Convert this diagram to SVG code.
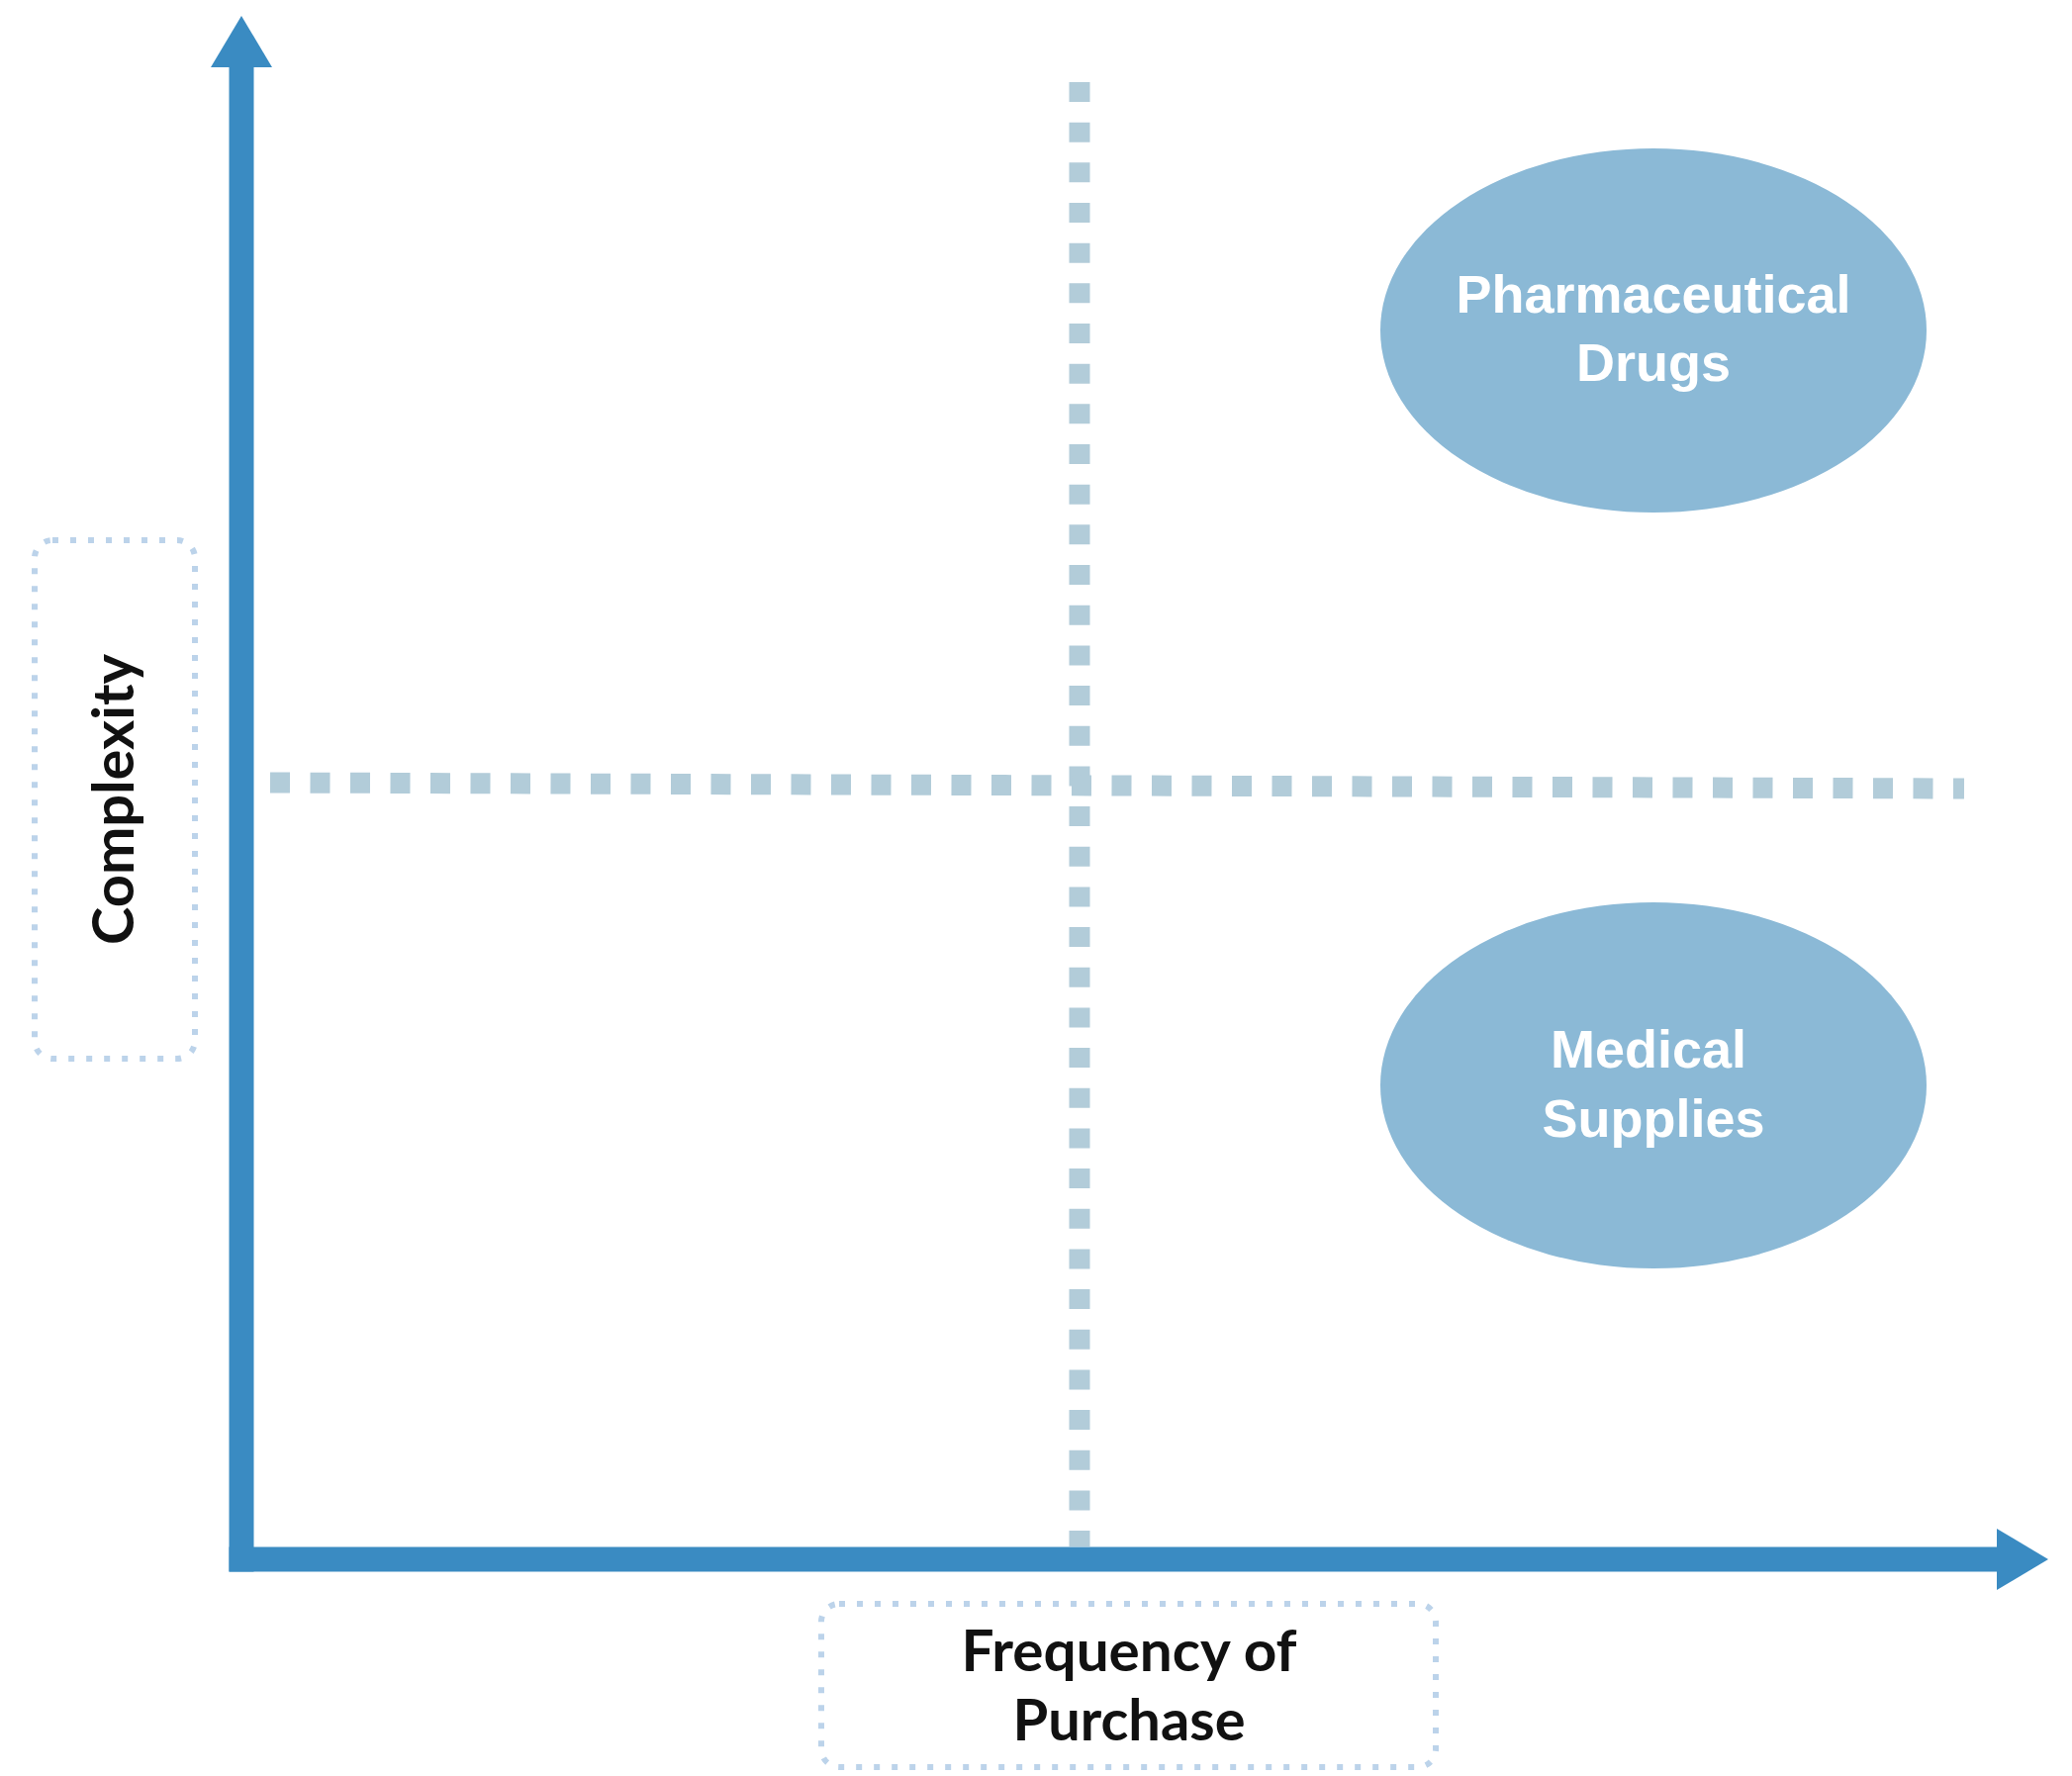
<svg xmlns="http://www.w3.org/2000/svg" width="2094" height="1795" viewBox="0 0 2094 1795">
  <style>
    .axis { stroke: #3a8bc2; stroke-width: 25; fill: none; }
    .grid { stroke: #b2ccd9; stroke-width: 21; fill: none; }
    .lblbox { fill: #ffffff; stroke: #bcd3ea; stroke-width: 6; stroke-dasharray: 6 12; }
    .bubble { fill: #8bb9d6; }
    .btext { font-family: "Liberation Sans", Arial, sans-serif; font-weight: 700; font-size: 54px; fill: #ffffff; text-anchor: middle; }
    .ltext { font-family: Lato, "Open Sans", sans-serif; font-weight: 700; font-size: 57px; fill: #111111; text-anchor: middle; }
  </style>
  <defs>
    <marker id="arrow" markerUnits="userSpaceOnUse" markerWidth="52" markerHeight="62" viewBox="0 0 52 62" refX="2" refY="31" orient="auto">
      <path d="M0,0 L52,31 L0,62 z" fill="#3a8bc2"/>
    </marker>
  </defs>
  <rect width="2094" height="1795" fill="#ffffff"/>

  <g id="gridlines">
    <line class="grid" x1="1091" y1="83" x2="1091" y2="1563" stroke-dasharray="20 20.67"/>
    <line class="grid" x1="273" y1="791" x2="1985" y2="797" stroke-dasharray="20 20.5"/>
  </g>

  <g id="connectors">
    <line id="y-axis" class="axis" x1="244" y1="1588.5" x2="244" y2="66" marker-end="url(#arrow)"/>
    <line id="x-axis" class="axis" x1="231.5" y1="1576" x2="2020" y2="1576" marker-end="url(#arrow)"/>
  </g>

  <g id="node-complexity">
    <rect class="lblbox" x="35" y="546" width="162" height="524" rx="18" ry="18"/>
    <text class="ltext" transform="translate(135,808) rotate(-90)" x="0" y="0" textLength="294" lengthAdjust="spacingAndGlyphs">Complexity</text>
  </g>

  <g id="node-frequency">
    <rect class="lblbox" x="830" y="1621" width="621" height="165" rx="18" ry="18"/>
    <text class="ltext" x="1141" y="1689" textLength="339" lengthAdjust="spacingAndGlyphs">Frequency of</text>
    <text class="ltext" x="1141" y="1759" textLength="235" lengthAdjust="spacingAndGlyphs">Purchase</text>
  </g>

  <g id="node-pharma">
    <ellipse class="bubble" cx="1671" cy="334" rx="276" ry="184"/>
    <text class="btext" x="1671" y="316">Pharmaceutical</text>
    <text class="btext" x="1671" y="385">Drugs</text>
  </g>

  <g id="node-medical">
    <ellipse class="bubble" cx="1671" cy="1097" rx="276" ry="185"/>
    <text class="btext" x="1666" y="1079">Medical</text>
    <text class="btext" x="1671" y="1149">Supplies</text>
  </g>
</svg>
